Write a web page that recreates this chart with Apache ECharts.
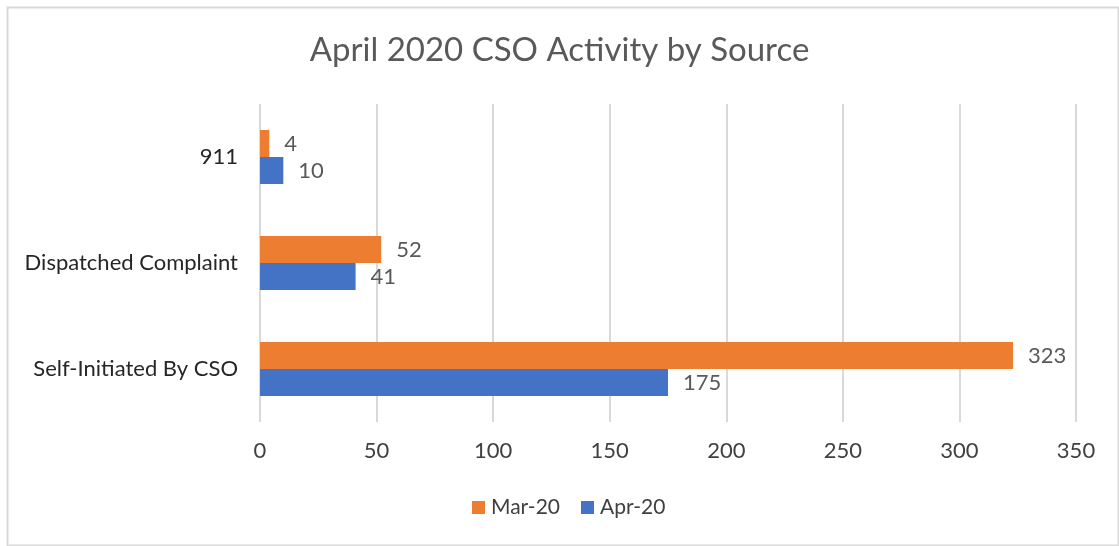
<!DOCTYPE html>
<html>
<head>
<meta charset="utf-8">
<script src="https://cdn.jsdelivr.net/npm/echarts@6/dist/echarts.min.js"></script>
<style>
html,body{margin:0;padding:0;background:#fff;}
#chart{width:1119px;height:546px;}
</style>
</head>
<body>
<div id="chart"></div>
<script>
const categories = ['911', 'Dispatched Complaint', 'Self-Initiated By CSO'];
const mar20 = [4, 52, 323];
const apr20 = [10, 41, 175];
const seriesNames = ['Mar-20', 'Apr-20'];

const FONT = 'Lato, "Open Sans", sans-serif';
const chart = echarts.init(document.getElementById('chart'));
chart.setOption({
  backgroundColor: '#fff',
  animation: false,
  textStyle: { fontFamily: FONT },
  graphic: [{
    type: 'rect', left: 5, top: 5,
    shape: { width: 1111, height: 538 },
    style: { fill: 'none', stroke: '#d9d9d9', lineWidth: 2 }
  }],
  title: {
    text: 'April 2020 CSO Activity by Source',
    left: 'center', top: 29,
    textStyle: { fontFamily: FONT, fontSize: 33, fontWeight: 'normal', color: '#595959' }
  },
  legend: {
    bottom: 23, left: 467,
    itemWidth: 13, itemHeight: 13, itemGap: 21,
    icon: 'rect',
    textStyle: { fontFamily: FONT, fontSize: 21, color: '#404040', padding: [0, 0, 0, 1] },
    data: seriesNames
  },
  grid: { left: 260, right: 43, top: 104, bottom: 124, containLabel: false },
  xAxis: {
    type: 'value', min: 0, max: 350, interval: 50,
    axisLine: { show: false }, axisTick: { show: false },
    axisLabel: { margin: 18, fontFamily: FONT, fontSize: 22, color: '#404040' },
    splitLine: { lineStyle: { color: '#d9d9d9', width: 2 } }
  },
  yAxis: {
    type: 'category', data: categories, inverse: true,
    axisLine: { show: false }, axisTick: { show: false },
    axisLabel: { margin: 22, fontFamily: FONT, fontSize: 22, color: '#262626' }
  },
  series: [
    {
      name: seriesNames[0], type: 'bar', data: mar20,
      barGap: '0%', barCategoryGap: '49%',
      itemStyle: { color: '#ED7D31' },
      label: { show: true, position: 'right', distance: 15, fontFamily: FONT, fontSize: 22, color: '#595959' }
    },
    {
      name: seriesNames[1], type: 'bar', data: apr20,
      barGap: '0%', barCategoryGap: '49%',
      itemStyle: { color: '#4472C4' },
      label: { show: true, position: 'right', distance: 15, fontFamily: FONT, fontSize: 22, color: '#595959' }
    }
  ]
});
</script>
</body>
</html>
